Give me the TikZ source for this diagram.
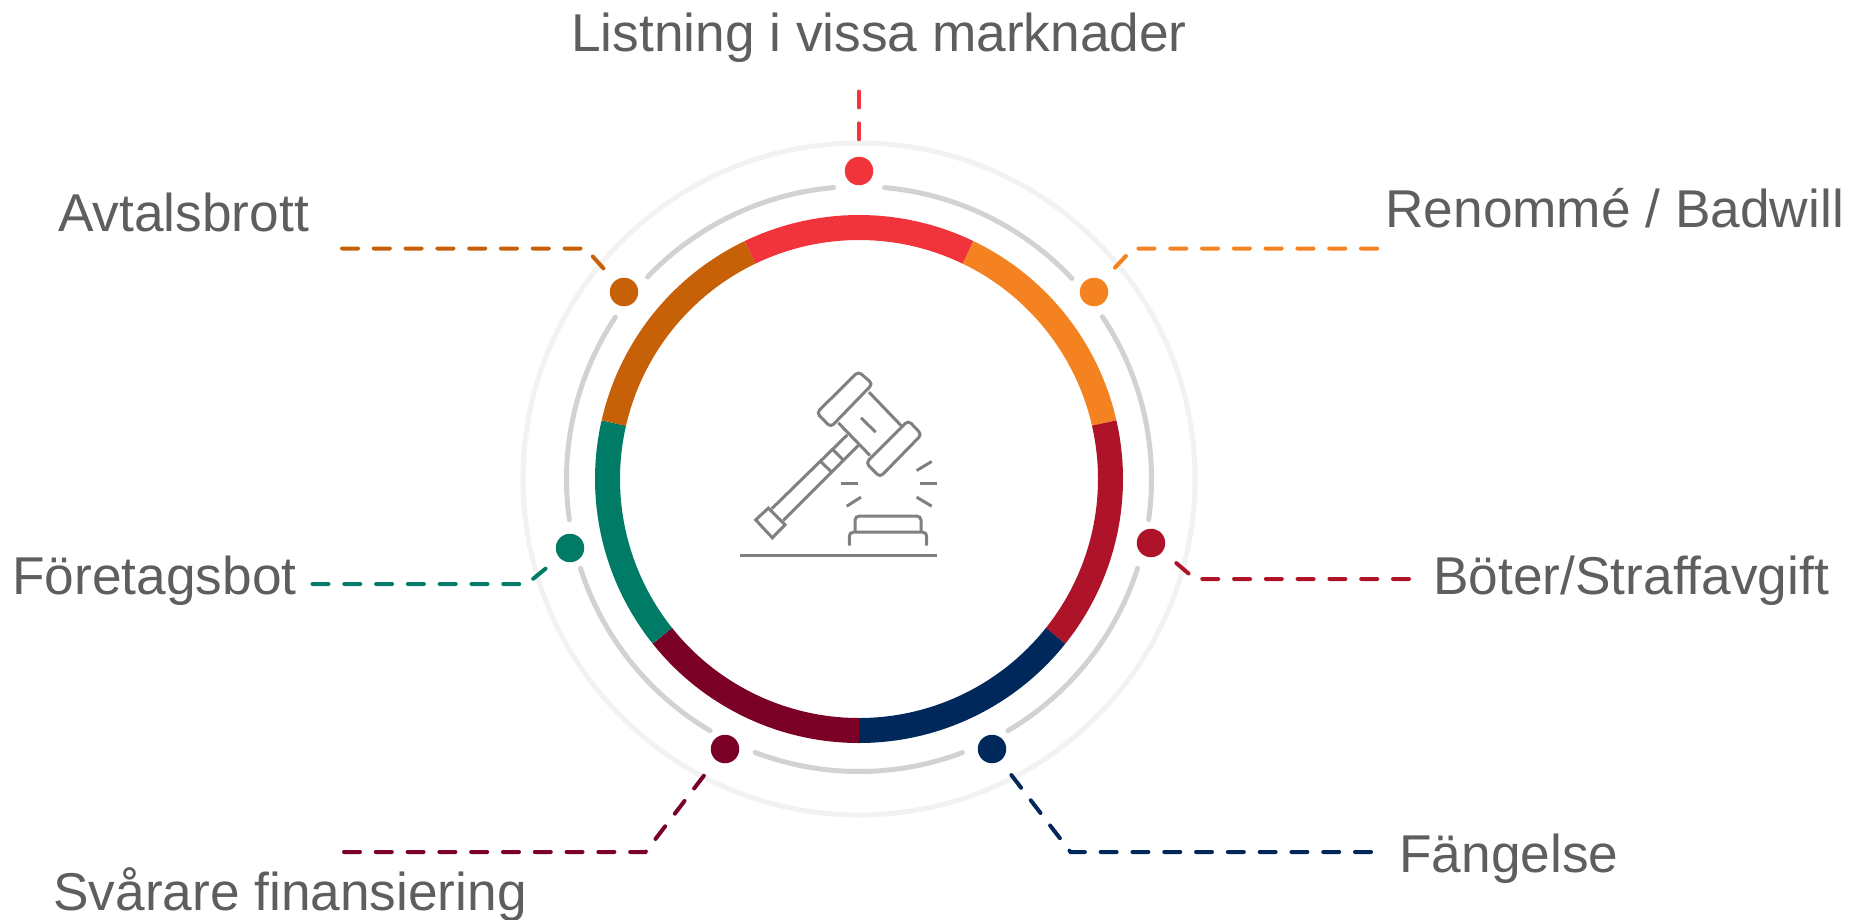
\documentclass[tikz,border=0pt]{standalone}
\usepackage{fontspec}
\setmainfont{Liberation Sans}
\usetikzlibrary{calc}
\definecolor{redc}{HTML}{F1343B}
\definecolor{orangec}{HTML}{F58220}
\definecolor{crimsonc}{HTML}{AE132A}
\definecolor{navyc}{HTML}{00285A}
\definecolor{maroonc}{HTML}{7A0026}
\definecolor{greenc}{HTML}{007C66}
\definecolor{brownc}{HTML}{C66108}
\definecolor{ringc}{HTML}{D1D2D4}
\definecolor{outerc}{HTML}{F2F2F2}
\definecolor{iconc}{HTML}{808080}
\definecolor{textc}{HTML}{5E5E5E}
\begin{document}
\begin{tikzpicture}[x=0.02cm,y=-0.02cm]
    \tikzstyle{label}=[text=textc, font=\fontsize{30.3}{32}\selectfont, inner sep=0pt, anchor=base west]
    \tikzstyle{dot}=[circle, minimum size=0.57cm, inner sep=0pt]
    \tikzstyle{seg}=[line width=0.5cm]
    \tikzstyle{gray arc}=[draw=ringc, line width=0.1cm, line cap=round]
    \tikzstyle{lead}=[line width=0.08cm, line cap=round, dash pattern=on 0.32cm off 0.316cm]
    \tikzstyle{icon}=[draw=iconc, line width=0.06cm, rounded corners=0.08cm]
    \useasboundingbox (0,0) rectangle (1858,919);
    \coordinate (c) at (859,479);
    \draw[draw=outerc, line width=0.1cm] (c) circle[radius=336];
    % colored ring
    \foreach \from/\to/\col in {115.71/64.29/redc,64.29/12.86/orangec,12.86/-38.57/crimsonc,-38.57/-90/navyc,-90/-141.43/maroonc,-141.43/-192.86/greenc,-192.86/-244.29/brownc} {
        \draw[seg, draw=\col] ($(c)+({251.5*cos(\from)},{-251.5*sin(\from)})$) arc[start angle=-\from, end angle=-\to, radius=251.5];
    }
    % gray arcs
    \foreach \from/\to in {85/43.3,33.7/-8,-17.8/-59.4,-69.3/-110.8,-120.6/-162.2,-172/-213.6,-223.7/-265} {
        \draw[gray arc] ($(c)+({292.5*cos(\from)},{-292.5*sin(\from)})$) arc[start angle=-\from, end angle=-\to, radius=292.5];
    }
    % dots
    \foreach \name/\x/\y/\col in {d1/859/171/redc,d2/1094/292/orangec,d3/1151/543/crimsonc,d4/992/749/navyc,d5/725/749/maroonc,d6/570/548/greenc,d7/624/292/brownc} {
        \node[dot, fill=\col] (\name) at (\x,\y) {};
    }
    % labels
    \node[label] (l1) at (571,52) {Listning i vissa marknader};
    \node[label] (l2) at (1385,227) {Renommé / Badwill};
    \node[label] (l3) at (1433,594) {Böter/Straffavgift};
    \node[label] (l4) at (1399,872) {Fängelse};
    \node[label] (l5) at (53,910) {Svårare finansiering};
    \node[label] (l6) at (12,594) {Företagsbot};
    \node[label] (l7) at (58,231) {Avtalsbrott};
    % leaders
    \coordinate (a1) at (859,91.5);
    \coordinate (e1) at (859,139.8);
    \coordinate (a2) at (1377,248.5);
    \coordinate (b2) at (1133,248.5);
    \coordinate (e2) at (1114.3,268.3);
    \coordinate (a3) at (1409,579);
    \coordinate (b3) at (1195,579);
    \coordinate (e3) at (1175,562);
    \coordinate (a4) at (1371,852);
    \coordinate (b4) at (1070.5,852);
    \coordinate (e4) at (1010,773.3);
    \coordinate (a5) at (344,852);
    \coordinate (b5) at (645.5,852);
    \coordinate (e5) at (705.7,773.3);
    \coordinate (a6) at (312.5,584);
    \coordinate (b6) at (526.8,584);
    \coordinate (e6) at (546.7,567.7);
    \coordinate (a7) at (342,248.5);
    \coordinate (b7) at (585.6,248.5);
    \coordinate (e7) at (604,269);
    \draw[lead, draw=redc] (a1) -- (e1);
    \draw[lead, draw=orangec] (a2) -- (b2) -- (e2);
    \draw[lead, draw=crimsonc] (a3) -- (b3) -- (e3);
    \draw[lead, draw=navyc] (a4) -- (b4) -- (e4);
    \draw[lead, draw=maroonc] (a5) -- (b5) -- (e5);
    \draw[lead, draw=greenc] (a6) -- (b6) -- (e6);
    \draw[lead, draw=brownc] (a7) -- (b7) -- (e7);
    % gavel
    \begin{scope}[shift={(720,340.5)},scale=1/3]
    \draw[icon] (415,93) -- (458,130) -- (332,260) -- (290,217) -- cycle;
    \draw[icon] (565,240) -- (605,282) -- (480,410) -- (438,367) -- cycle;
    \draw[icon, rounded corners=0pt] (447,155) -- (543,255);
    \draw[icon, rounded corners=0pt] (355,247) -- (450,345);
    \draw[icon, rounded corners=0pt] (423,232) -- (467,275);
    \draw[icon, rounded corners=0pt] (382,283) -- (155,505);
    \draw[icon, rounded corners=0pt] (415,315) -- (190,540);
    \draw[icon, rounded corners=0pt] (338,327) -- (368,357);
    \draw[icon, rounded corners=0pt] (302,363) -- (333,393);
    \draw[icon, rounded corners=0pt] (145,503) -- (195,553) -- (157,592) -- (107,538) -- cycle;
    \foreach \ax/\ay/\bx/\by in {590/390/635/363,600/430/652/430,590/470/635/497,362/430/415/430,380/497/423/470} {
        \draw[icon] (\ax,\ay) -- (\bx,\by);
    }
    \draw[icon] (405,572) -- (405,527) -- (603,527) -- (603,572);
    \draw[icon] (388,615) -- (388,575) -- (620,575) -- (620,615);
    \draw[icon] (60,644) -- (650,644);
    \end{scope}
\end{tikzpicture}
\end{document}
